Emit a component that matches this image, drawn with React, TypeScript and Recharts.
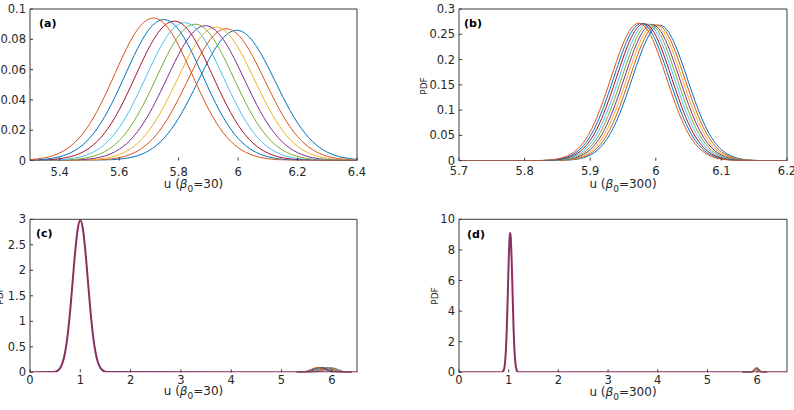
import React from 'react';
import { LineChart, Line, XAxis, YAxis } from 'recharts';

// MATLAB default colour order, one per run
const COLORS = ['#0072BD', '#D95319', '#EDB120', '#7E2F8E', '#77AC30', '#4DBEEE', '#A2142F', '#0072BD', '#D95319'];
const PEAK_COLOR = '#8a2f62';

// beta0 = 30, around u = 6
const gridA = [5.3, 5.35, 5.4, 5.45, 5.5, 5.55, 5.6, 5.65, 5.7, 5.75, 5.8, 5.85, 5.9, 5.95, 6.0, 6.05, 6.1, 6.15, 6.2, 6.25, 6.3, 6.35, 6.4];
const a1 = [0, 0, 0, 0, 0.0001, 0.0002, 0.0009, 0.0025, 0.0065, 0.0146, 0.0279, 0.0462, 0.0659, 0.081, 0.0859, 0.0786, 0.0621, 0.0422, 0.0248, 0.0126, 0.0055, 0.0021, 0.0007];
const a2 = [0, 0, 0, 0, 0.0002, 0.0006, 0.0019, 0.0051, 0.0118, 0.0236, 0.0408, 0.0608, 0.0782, 0.0867, 0.083, 0.0685, 0.0487, 0.0299, 0.0158, 0.0072, 0.0028, 0.001, 0.0003];
const a3 = [0, 0, 0, 0.0001, 0.0004, 0.0014, 0.0039, 0.0094, 0.0197, 0.0356, 0.0554, 0.0745, 0.0864, 0.0864, 0.0745, 0.0554, 0.0356, 0.0197, 0.0094, 0.0039, 0.0014, 0.0004, 0.0001];
const a4 = [0, 0, 0.0001, 0.0003, 0.001, 0.0029, 0.0074, 0.0162, 0.0306, 0.0498, 0.07, 0.0849, 0.0887, 0.08, 0.0622, 0.0417, 0.0241, 0.012, 0.0052, 0.0019, 0.0006, 0.0002, 0];
const a5 = [0, 0, 0.0002, 0.0007, 0.0022, 0.0057, 0.0131, 0.026, 0.0442, 0.065, 0.0823, 0.0899, 0.0848, 0.0689, 0.0483, 0.0292, 0.0152, 0.0068, 0.0027, 0.0009, 0.0003, 0.0001, 0];
const a6 = [0, 0.0001, 0.0005, 0.0016, 0.0044, 0.0105, 0.0217, 0.0387, 0.0594, 0.0787, 0.0899, 0.0886, 0.0753, 0.0552, 0.0349, 0.019, 0.0089, 0.0036, 0.0013, 0.0004, 0.0001, 0, 0];
const a7 = [0.0001, 0.0003, 0.0012, 0.0033, 0.0083, 0.0179, 0.0334, 0.0537, 0.0743, 0.0887, 0.0914, 0.0812, 0.0622, 0.0411, 0.0234, 0.0115, 0.0049, 0.0018, 0.0006, 0.0002, 0, 0, 0];
const a8 = [0.0002, 0.0008, 0.0025, 0.0065, 0.0146, 0.0285, 0.0478, 0.0692, 0.0864, 0.093, 0.0864, 0.0692, 0.0478, 0.0285, 0.0146, 0.0065, 0.0025, 0.0008, 0.0002, 0, 0, 0, 0];
const a9 = [0.0006, 0.0018, 0.005, 0.0118, 0.0239, 0.042, 0.0636, 0.083, 0.0934, 0.0907, 0.0759, 0.0548, 0.0341, 0.0183, 0.0085, 0.0034, 0.0012, 0.0003, 0, 0, 0, 0, 0];

// beta0 = 300, around u = 6
const gridB = [5.7, 5.72, 5.74, 5.76, 5.78, 5.8, 5.82, 5.84, 5.86, 5.88, 5.9, 5.92, 5.94, 5.96, 5.98, 6.0, 6.02, 6.04, 6.06, 6.08, 6.1, 6.12, 6.14, 6.16, 6.18, 6.2];
const b1 = [0, 0, 0, 0, 0, 0, 0, 0.0001, 0.0006, 0.003, 0.0111, 0.033, 0.078, 0.1471, 0.2213, 0.2653, 0.2535, 0.1931, 0.1173, 0.0568, 0.0219, 0.0068, 0.0017, 0.0003, 0.0001, 0];
const b2 = [0, 0, 0, 0, 0, 0, 0, 0.0002, 0.0009, 0.0039, 0.0141, 0.0399, 0.0903, 0.1629, 0.2341, 0.2682, 0.2449, 0.1783, 0.1035, 0.0479, 0.0176, 0.0052, 0.0012, 0.0002, 0, 0];
const b3 = [0, 0, 0, 0, 0, 0, 0, 0.0002, 0.0012, 0.0052, 0.0177, 0.048, 0.1037, 0.1787, 0.2454, 0.2687, 0.2345, 0.1632, 0.0905, 0.04, 0.0141, 0.004, 0.0009, 0.0002, 0, 0];
const b4 = [0, 0, 0, 0, 0, 0, 0.0001, 0.0003, 0.0017, 0.0068, 0.022, 0.0571, 0.1179, 0.1942, 0.2549, 0.2668, 0.2225, 0.148, 0.0784, 0.0331, 0.0112, 0.003, 0.0006, 0.0001, 0, 0];
const b5 = [0, 0, 0, 0, 0, 0, 0.0001, 0.0005, 0.0022, 0.0087, 0.0272, 0.0673, 0.1329, 0.2092, 0.2625, 0.2625, 0.2092, 0.1329, 0.0673, 0.0272, 0.0087, 0.0022, 0.0005, 0.0001, 0, 0];
const b6 = [0, 0, 0, 0, 0, 0, 0.0001, 0.0006, 0.003, 0.0112, 0.0333, 0.0787, 0.1485, 0.2234, 0.2677, 0.2559, 0.1949, 0.1184, 0.0573, 0.0221, 0.0068, 0.0017, 0.0003, 0.0001, 0, 0];
const b7 = [0, 0, 0, 0, 0, 0, 0.0002, 0.0009, 0.004, 0.0142, 0.0403, 0.0912, 0.1644, 0.2363, 0.2707, 0.2472, 0.18, 0.1044, 0.0483, 0.0178, 0.0052, 0.0012, 0.0002, 0, 0, 0];
const b8 = [0, 0, 0, 0, 0, 0, 0.0002, 0.0012, 0.0052, 0.0178, 0.0484, 0.1046, 0.1803, 0.2477, 0.2712, 0.2367, 0.1647, 0.0913, 0.0404, 0.0142, 0.004, 0.0009, 0.0002, 0, 0, 0];
const b9 = [0, 0, 0, 0, 0, 0.0001, 0.0003, 0.0017, 0.0069, 0.0222, 0.0576, 0.119, 0.196, 0.2573, 0.2692, 0.2246, 0.1493, 0.0792, 0.0335, 0.0113, 0.003, 0.0007, 0.0001, 0, 0, 0];

// the big peak near u = 1
const peakCx = [0, 0.45, 0.5, 0.55, 0.6, 0.65, 0.7, 0.75, 0.8, 0.85, 0.9, 0.95, 1.0, 1.05, 1.1, 1.15, 1.2, 1.25, 1.3, 1.35, 1.4, 1.45, 1.5, 1.55, 6.5];
const peakCy = [0, 0.004, 0.012, 0.033, 0.085, 0.196, 0.403, 0.743, 1.225, 1.807, 2.386, 2.819, 2.98, 2.819, 2.386, 1.807, 1.225, 0.743, 0.403, 0.196, 0.085, 0.033, 0.012, 0.004, 0];
const peakDx = [0, 0.86, 0.88, 0.9, 0.92, 0.94, 0.96, 0.98, 1.0, 1.02, 1.03, 1.04, 1.06, 1.08, 1.1, 1.12, 1.14, 1.16, 1.18, 1.2, 6.6];
const peakDy = [0, 0, 0.04, 0.14, 0.46, 1.23, 2.71, 4.91, 7.29, 8.88, 9.1, 8.88, 7.29, 4.91, 2.71, 1.23, 0.46, 0.14, 0.04, 0, 0];

const xTicksA = [5.4, 5.6, 5.8, 6, 6.2, 6.4];
const yTicksA = [0, 0.02, 0.04, 0.06, 0.08, 0.1];
const xTicksB = [5.7, 5.8, 5.9, 6, 6.1, 6.2];
const yTicksB = [0, 0.05, 0.1, 0.15, 0.2, 0.25, 0.3];
const xTicksC = [0, 1, 2, 3, 4, 5, 6];
const yTicksC = [0, 0.5, 1, 1.5, 2, 2.5, 3];
const xTicksD = [0, 1, 2, 3, 4, 5, 6];
const yTicksD = [0, 2, 4, 6, 8, 10];

const pts = (xs: number[], ys: number[]) => xs.map((x, i) => ({ x, y: ys[i] }));
const runsA = [a1, a2, a3, a4, a5, a6, a7, a8, a9];
const runsB = [b1, b2, b3, b4, b5, b6, b7, b8, b9];

const AXIS = '#3a3a3a';
const tickFont = { fontSize: 11.5, fontFamily: 'DejaVu Sans', fill: '#262626' };

type Series = { data: { x: number; y: number }[]; color: string; width: number; curve: 'natural' | 'monotone' };

function Panel(props: {
  left: number; top: number; width: number; height: number;
  margin: { top: number; right: number; bottom: number; left: number };
  xDomain: number[]; yDomain: number[]; xTicks: number[]; yTicks: number[];
  yWidth: number; xGap: number; series: Series[];
}) {
  const { left, top, width, height, margin, xDomain, yDomain, xTicks, yTicks, yWidth, xGap, series } = props;
  // top / right axes only carry the inward tick marks of the box
  const m = { top: margin.top - 1, right: margin.right - 1, bottom: margin.bottom, left: margin.left };
  return (
    <div style={{ position: 'absolute', left, top }}>
      <LineChart width={width} height={height} margin={m}>
        <XAxis xAxisId="b" dataKey="x" type="number" domain={xDomain} ticks={xTicks} interval={0}
          height={30} tickSize={-3} tickMargin={xGap + 3} tick={tickFont}
          axisLine={false} tickLine={{ stroke: AXIS }} allowDataOverflow />
        <XAxis xAxisId="t" dataKey="x" orientation="top" type="number" domain={xDomain} ticks={xTicks} interval={0}
          height={1} tickSize={-3} tick={false} axisLine={{ stroke: AXIS }} tickLine={{ stroke: AXIS }} allowDataOverflow />
        <YAxis yAxisId="l" type="number" domain={yDomain} ticks={yTicks} interval={0}
          width={yWidth} tickSize={-3} tickMargin={7} tick={tickFont}
          axisLine={{ stroke: AXIS }} tickLine={{ stroke: AXIS }} allowDataOverflow />
        <YAxis yAxisId="r" orientation="right" type="number" domain={yDomain} ticks={yTicks} interval={0}
          width={1} tickSize={-3} tick={false} axisLine={{ stroke: AXIS }} tickLine={{ stroke: AXIS }} allowDataOverflow />
        <Line xAxisId="t" yAxisId="r" data={series[0].data} dataKey="y" stroke="none" dot={false}
          activeDot={false} isAnimationActive={false} />
        {series.map((s, i) => (
          <Line key={i} xAxisId="b" yAxisId="l" data={s.data} dataKey="y" type={s.curve}
            stroke={s.color} strokeWidth={s.width} dot={false} activeDot={false} isAnimationActive={false} />
        ))}
      </LineChart>
    </div>
  );
}

function XLabel({ x, y, beta }: { x: number; y: number; beta: string }) {
  return (
    <text x={x} y={y} textAnchor="middle" fontSize={12} fontFamily="DejaVu Sans" fill="#262626">
      u (<tspan fontStyle="italic">β</tspan>
      <tspan fontSize={9} dy={4}>0</tspan>
      <tspan dy={-4}>={beta})</tspan>
    </text>
  );
}

export default function App() {
  const seriesA: Series[] = runsA.map((r, i) => ({ data: pts(gridA, r), color: COLORS[i], width: 1, curve: 'natural' }));
  const seriesB: Series[] = runsB.map((r, i) => ({ data: pts(gridB, r), color: COLORS[i], width: 1, curve: 'natural' }));
  const seriesC: Series[] = [
    ...runsA.map((r, i) => ({ data: pts(gridA, r), color: COLORS[i], width: 1, curve: 'monotone' as const })),
    { data: pts(peakCx, peakCy), color: PEAK_COLOR, width: 2, curve: 'monotone' },
  ];
  const seriesD: Series[] = [
    ...runsB.map((r, i) => ({ data: pts(gridB, r), color: COLORS[i], width: 1, curve: 'monotone' as const })),
    { data: pts(peakDx, peakDy), color: PEAK_COLOR, width: 2, curve: 'monotone' },
  ];

  return (
    <div style={{ position: 'absolute', left: 0, top: 0, width: 794, height: 410, background: '#fff', overflow: 'hidden' }}>
      <Panel left={0} top={0} width={400} height={200} margin={{ top: 9, right: 43, bottom: 9.5, left: 0 }}
        xDomain={[5.3, 6.4]} yDomain={[0, 0.1]} xTicks={xTicksA} yTicks={yTicksA} yWidth={30} xGap={7} series={seriesA} />
      <Panel left={400} top={0} width={394} height={200} margin={{ top: 9, right: 7, bottom: 9.3, left: 19 }}
        xDomain={[5.7, 6.2]} yDomain={[0, 0.3]} xTicks={xTicksB} yTicks={yTicksB} yWidth={40} xGap={6} series={seriesB} />
      <Panel left={0} top={200} width={400} height={210} margin={{ top: 19.3, right: 43, bottom: 7.7, left: 0 }}
        xDomain={[0, 6.5]} yDomain={[0, 3]} xTicks={xTicksC} yTicks={yTicksC} yWidth={30} xGap={3.5} series={seriesC} />
      <Panel left={400} top={200} width={394} height={210} margin={{ top: 19.3, right: 7, bottom: 7.7, left: 19 }}
        xDomain={[0, 6.6]} yDomain={[0, 10]} xTicks={xTicksD} yTicks={yTicksD} yWidth={40} xGap={3.5} series={seriesD} />

      <svg width={794} height={410} style={{ position: 'absolute', left: 0, top: 0, pointerEvents: 'none' }}>
        <g fontFamily="DejaVu Sans" fontWeight="bold" fontSize={11} fill="#000">
          <text x={39} y={27}>(a)</text>
          <text x={464} y={27}>(b)</text>
          <text x={36} y={237}>(c)</text>
          <text x={467} y={238}>(d)</text>
        </g>
        <XLabel x={193.5} y={188} beta="30" />
        <XLabel x={623} y={188} beta="300" />
        <XLabel x={193.5} y={395} beta="30" />
        <XLabel x={623} y={396} beta="300" />
        <g fontFamily="DejaVu Sans" fontSize={9} fill="#262626" textAnchor="middle">
          <text transform="translate(427,86) rotate(-90)">PDF</text>
          <text transform="translate(3,296) rotate(-90)">PDF</text>
          <text transform="translate(438,296) rotate(-90)">PDF</text>
        </g>
      </svg>
    </div>
  );
}
